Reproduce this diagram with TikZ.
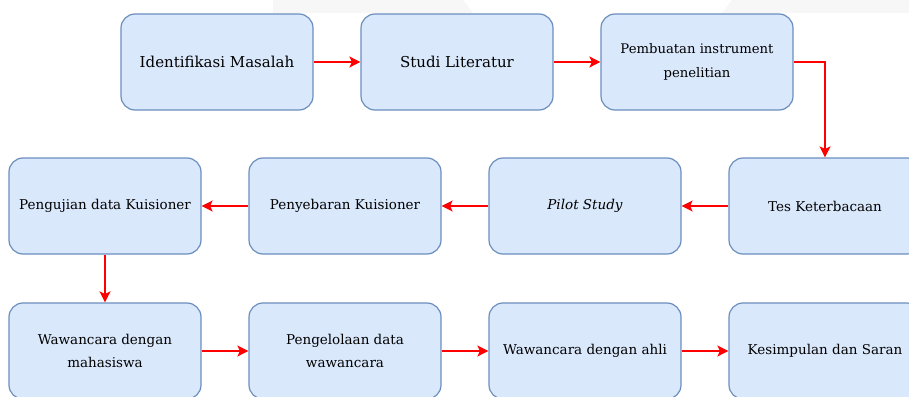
\documentclass[tikz,border=0pt]{standalone}
\usepackage{fontspec}
\setmainfont{DejaVu Serif}
\usetikzlibrary{arrows.meta}
\definecolor{boxfill}{HTML}{DAE8FC}
\definecolor{boxline}{HTML}{6C8EBF}
\definecolor{wm}{HTML}{F7F7F7}
\begin{document}
\begin{tikzpicture}[x=1pt,y=-1pt,
  stepbox/.style={draw=boxline, fill=boxfill, line width=1.2pt, rounded corners=14pt,
    minimum width=192pt, minimum height=96pt, align=center, inner sep=2pt,
    font=\fontsize{13.5}{23}\selectfont, text=black},
  bigtext/.style={font=\fontsize{15}{23}\selectfont},
  smalltext/.style={font=\fontsize{13.2}{24}\selectfont},
  flow/.style={draw=red, line width=1.5pt, -{Stealth[length=11pt,width=11pt,inset=2.5pt]}}]
\clip (0,0) rectangle (909,396);
\fill[white] (0,0) rectangle (909,396);
% faint watermark fragments
\fill[wm] (273,0) -- (463,0) -- (473,13) -- (273,13) -- cycle;
\fill[wm] (732,0) -- (909,0) -- (909,13) -- (722,13) -- cycle;
% row 1
\node[stepbox,bigtext] (idm) at (217,62) {Identifikasi Masalah};
\node[stepbox,bigtext] (stl) at (457,62) {Studi Literatur};
\node[stepbox,smalltext] (pin) at (697,62) {Pembuatan instrument\\penelitian};
% row 2
\node[stepbox] (puk) at (105,206) {Pengujian data Kuisioner};
\node[stepbox] (pek) at (345,206) {Penyebaran Kuisioner};
\node[stepbox] (pil) at (585,206) {\itshape Pilot Study};
\node[stepbox] (tes) at (825,206) {Tes Keterbacaan};
% row 3
\node[stepbox] (wmh) at (105,351) {Wawancara dengan\\mahasiswa};
\node[stepbox] (pdw) at (345,351) {Pengelolaan data\\wawancara};
\node[stepbox] (wah) at (585,351) {Wawancara dengan ahli};
\node[stepbox] (kds) at (825,351) {Kesimpulan dan Saran};
% connectors
\draw[flow] (idm) -- (stl);
\draw[flow] (stl) -- (pin);
\draw[flow] (pin.east) -| (tes.north);
\draw[flow] (tes) -- (pil);
\draw[flow] (pil) -- (pek);
\draw[flow] (pek) -- (puk);
\draw[flow] (puk) -- (wmh);
\draw[flow] (wmh) -- (pdw);
\draw[flow] (pdw) -- (wah);
\draw[flow] (wah) -- (kds);
\end{tikzpicture}
\end{document}
